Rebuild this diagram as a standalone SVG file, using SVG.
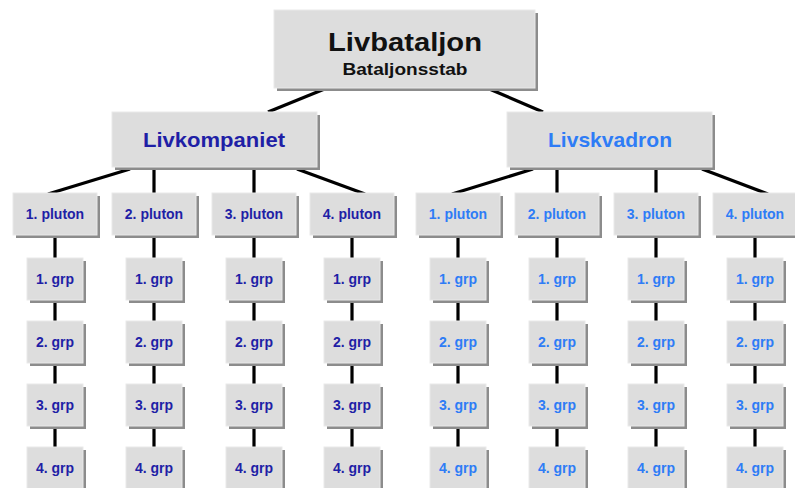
<svg xmlns="http://www.w3.org/2000/svg" width="795" height="488" viewBox="0 0 795 488">
<style>
.sh{fill:#8c8c8c}
.bx{fill:#dddddd;stroke:#e9e9e9;stroke-width:1}
.t{font-family:"Liberation Sans",Arial,sans-serif;font-weight:bold;text-anchor:middle}
.k{fill:#1f1fa6}
.s{fill:#2e7cf6}
.c line{stroke:#000;stroke-width:3.2}
.p{font-size:14px}
</style>
<rect width="795" height="488" fill="#fff"/>
<g class="c" id="connectors">
<line x1="327" y1="88" x2="268" y2="112"/>
<line x1="487" y1="88" x2="543" y2="112"/>
<line x1="130" y1="169" x2="48" y2="194"/>
<line x1="154" y1="167" x2="154" y2="194"/>
<line x1="254" y1="167" x2="254" y2="194"/>
<line x1="297" y1="169" x2="365" y2="194"/>
<line x1="533" y1="169" x2="452" y2="194"/>
<line x1="557" y1="167" x2="557" y2="194"/>
<line x1="656" y1="167" x2="656" y2="194"/>
<line x1="702" y1="169" x2="768" y2="194"/>
<line x1="55" y1="230" x2="55" y2="488"/>
<line x1="154" y1="230" x2="154" y2="488"/>
<line x1="254" y1="230" x2="254" y2="488"/>
<line x1="352" y1="230" x2="352" y2="488"/>
<line x1="458" y1="230" x2="458" y2="488"/>
<line x1="557" y1="230" x2="557" y2="488"/>
<line x1="656" y1="230" x2="656" y2="488"/>
<line x1="755" y1="230" x2="755" y2="488"/>
</g>
<g id="livbataljon">
<rect class="sh" x="277" y="13" width="261" height="78"/>
<rect class="bx" x="274" y="10" width="261" height="78"/>
<text class="t" x="405" y="51" font-size="26" textLength="154" lengthAdjust="spacingAndGlyphs" fill="#111">Livbataljon</text>
<text class="t" x="405" y="75" font-size="17" textLength="125" lengthAdjust="spacingAndGlyphs" fill="#111">Bataljonsstab</text>
</g>
<g id="livkompaniet">
<rect class="sh" x="115" y="115" width="205" height="55"/>
<rect class="bx" x="112" y="112" width="205" height="55"/>
<text class="t k" x="214" y="147" font-size="21" textLength="142" lengthAdjust="spacingAndGlyphs">Livkompaniet</text>
</g>
<g id="livskvadron">
<rect class="sh" x="510" y="115" width="205" height="55"/>
<rect class="bx" x="507" y="112" width="205" height="55"/>
<text class="t s" x="610" y="147" font-size="21" textLength="124" lengthAdjust="spacingAndGlyphs">Livskvadron</text>
</g>
<!-- Livkompaniet plutons -->
<g id="k-p1"><rect class="sh" x="16" y="196" width="84" height="42"/><rect class="bx" x="13" y="193" width="84" height="42"/><text class="t k p" x="55" y="219">1. pluton</text></g>
<g id="k-p2"><rect class="sh" x="115" y="196" width="84" height="42"/><rect class="bx" x="112" y="193" width="84" height="42"/><text class="t k p" x="154" y="219">2. pluton</text></g>
<g id="k-p3"><rect class="sh" x="215" y="196" width="84" height="42"/><rect class="bx" x="212" y="193" width="84" height="42"/><text class="t k p" x="254" y="219">3. pluton</text></g>
<g id="k-p4"><rect class="sh" x="313" y="196" width="84" height="42"/><rect class="bx" x="310" y="193" width="84" height="42"/><text class="t k p" x="352" y="219">4. pluton</text></g>
<!-- Livskvadron plutons -->
<g id="s-p1"><rect class="sh" x="419" y="196" width="84" height="42"/><rect class="bx" x="416" y="193" width="84" height="42"/><text class="t s p" x="458" y="219">1. pluton</text></g>
<g id="s-p2"><rect class="sh" x="518" y="196" width="84" height="42"/><rect class="bx" x="515" y="193" width="84" height="42"/><text class="t s p" x="557" y="219">2. pluton</text></g>
<g id="s-p3"><rect class="sh" x="617" y="196" width="84" height="42"/><rect class="bx" x="614" y="193" width="84" height="42"/><text class="t s p" x="656" y="219">3. pluton</text></g>
<g id="s-p4"><rect class="sh" x="716" y="196" width="84" height="42"/><rect class="bx" x="713" y="193" width="84" height="42"/><text class="t s p" x="755" y="219">4. pluton</text></g>
<!-- groups: column 1 -->
<g id="k1-g1"><rect class="sh" x="30" y="261" width="56" height="42"/><rect class="bx" x="27" y="258" width="56" height="42"/><text class="t k p" x="55" y="284">1. grp</text></g>
<g id="k1-g2"><rect class="sh" x="30" y="324" width="56" height="42"/><rect class="bx" x="27" y="321" width="56" height="42"/><text class="t k p" x="55" y="347">2. grp</text></g>
<g id="k1-g3"><rect class="sh" x="30" y="387" width="56" height="42"/><rect class="bx" x="27" y="384" width="56" height="42"/><text class="t k p" x="55" y="410">3. grp</text></g>
<g id="k1-g4"><rect class="sh" x="30" y="450" width="56" height="42"/><rect class="bx" x="27" y="447" width="56" height="42"/><text class="t k p" x="55" y="473">4. grp</text></g>
<!-- column 2 -->
<g id="k2-g1"><rect class="sh" x="129" y="261" width="56" height="42"/><rect class="bx" x="126" y="258" width="56" height="42"/><text class="t k p" x="154" y="284">1. grp</text></g>
<g id="k2-g2"><rect class="sh" x="129" y="324" width="56" height="42"/><rect class="bx" x="126" y="321" width="56" height="42"/><text class="t k p" x="154" y="347">2. grp</text></g>
<g id="k2-g3"><rect class="sh" x="129" y="387" width="56" height="42"/><rect class="bx" x="126" y="384" width="56" height="42"/><text class="t k p" x="154" y="410">3. grp</text></g>
<g id="k2-g4"><rect class="sh" x="129" y="450" width="56" height="42"/><rect class="bx" x="126" y="447" width="56" height="42"/><text class="t k p" x="154" y="473">4. grp</text></g>
<!-- column 3 -->
<g id="k3-g1"><rect class="sh" x="229" y="261" width="56" height="42"/><rect class="bx" x="226" y="258" width="56" height="42"/><text class="t k p" x="254" y="284">1. grp</text></g>
<g id="k3-g2"><rect class="sh" x="229" y="324" width="56" height="42"/><rect class="bx" x="226" y="321" width="56" height="42"/><text class="t k p" x="254" y="347">2. grp</text></g>
<g id="k3-g3"><rect class="sh" x="229" y="387" width="56" height="42"/><rect class="bx" x="226" y="384" width="56" height="42"/><text class="t k p" x="254" y="410">3. grp</text></g>
<g id="k3-g4"><rect class="sh" x="229" y="450" width="56" height="42"/><rect class="bx" x="226" y="447" width="56" height="42"/><text class="t k p" x="254" y="473">4. grp</text></g>
<!-- column 4 -->
<g id="k4-g1"><rect class="sh" x="327" y="261" width="56" height="42"/><rect class="bx" x="324" y="258" width="56" height="42"/><text class="t k p" x="352" y="284">1. grp</text></g>
<g id="k4-g2"><rect class="sh" x="327" y="324" width="56" height="42"/><rect class="bx" x="324" y="321" width="56" height="42"/><text class="t k p" x="352" y="347">2. grp</text></g>
<g id="k4-g3"><rect class="sh" x="327" y="387" width="56" height="42"/><rect class="bx" x="324" y="384" width="56" height="42"/><text class="t k p" x="352" y="410">3. grp</text></g>
<g id="k4-g4"><rect class="sh" x="327" y="450" width="56" height="42"/><rect class="bx" x="324" y="447" width="56" height="42"/><text class="t k p" x="352" y="473">4. grp</text></g>
<!-- column 5 -->
<g id="s1-g1"><rect class="sh" x="433" y="261" width="56" height="42"/><rect class="bx" x="430" y="258" width="56" height="42"/><text class="t s p" x="458" y="284">1. grp</text></g>
<g id="s1-g2"><rect class="sh" x="433" y="324" width="56" height="42"/><rect class="bx" x="430" y="321" width="56" height="42"/><text class="t s p" x="458" y="347">2. grp</text></g>
<g id="s1-g3"><rect class="sh" x="433" y="387" width="56" height="42"/><rect class="bx" x="430" y="384" width="56" height="42"/><text class="t s p" x="458" y="410">3. grp</text></g>
<g id="s1-g4"><rect class="sh" x="433" y="450" width="56" height="42"/><rect class="bx" x="430" y="447" width="56" height="42"/><text class="t s p" x="458" y="473">4. grp</text></g>
<!-- column 6 -->
<g id="s2-g1"><rect class="sh" x="532" y="261" width="56" height="42"/><rect class="bx" x="529" y="258" width="56" height="42"/><text class="t s p" x="557" y="284">1. grp</text></g>
<g id="s2-g2"><rect class="sh" x="532" y="324" width="56" height="42"/><rect class="bx" x="529" y="321" width="56" height="42"/><text class="t s p" x="557" y="347">2. grp</text></g>
<g id="s2-g3"><rect class="sh" x="532" y="387" width="56" height="42"/><rect class="bx" x="529" y="384" width="56" height="42"/><text class="t s p" x="557" y="410">3. grp</text></g>
<g id="s2-g4"><rect class="sh" x="532" y="450" width="56" height="42"/><rect class="bx" x="529" y="447" width="56" height="42"/><text class="t s p" x="557" y="473">4. grp</text></g>
<!-- column 7 -->
<g id="s3-g1"><rect class="sh" x="631" y="261" width="56" height="42"/><rect class="bx" x="628" y="258" width="56" height="42"/><text class="t s p" x="656" y="284">1. grp</text></g>
<g id="s3-g2"><rect class="sh" x="631" y="324" width="56" height="42"/><rect class="bx" x="628" y="321" width="56" height="42"/><text class="t s p" x="656" y="347">2. grp</text></g>
<g id="s3-g3"><rect class="sh" x="631" y="387" width="56" height="42"/><rect class="bx" x="628" y="384" width="56" height="42"/><text class="t s p" x="656" y="410">3. grp</text></g>
<g id="s3-g4"><rect class="sh" x="631" y="450" width="56" height="42"/><rect class="bx" x="628" y="447" width="56" height="42"/><text class="t s p" x="656" y="473">4. grp</text></g>
<!-- column 8 -->
<g id="s4-g1"><rect class="sh" x="730" y="261" width="56" height="42"/><rect class="bx" x="727" y="258" width="56" height="42"/><text class="t s p" x="755" y="284">1. grp</text></g>
<g id="s4-g2"><rect class="sh" x="730" y="324" width="56" height="42"/><rect class="bx" x="727" y="321" width="56" height="42"/><text class="t s p" x="755" y="347">2. grp</text></g>
<g id="s4-g3"><rect class="sh" x="730" y="387" width="56" height="42"/><rect class="bx" x="727" y="384" width="56" height="42"/><text class="t s p" x="755" y="410">3. grp</text></g>
<g id="s4-g4"><rect class="sh" x="730" y="450" width="56" height="42"/><rect class="bx" x="727" y="447" width="56" height="42"/><text class="t s p" x="755" y="473">4. grp</text></g>
</svg>
